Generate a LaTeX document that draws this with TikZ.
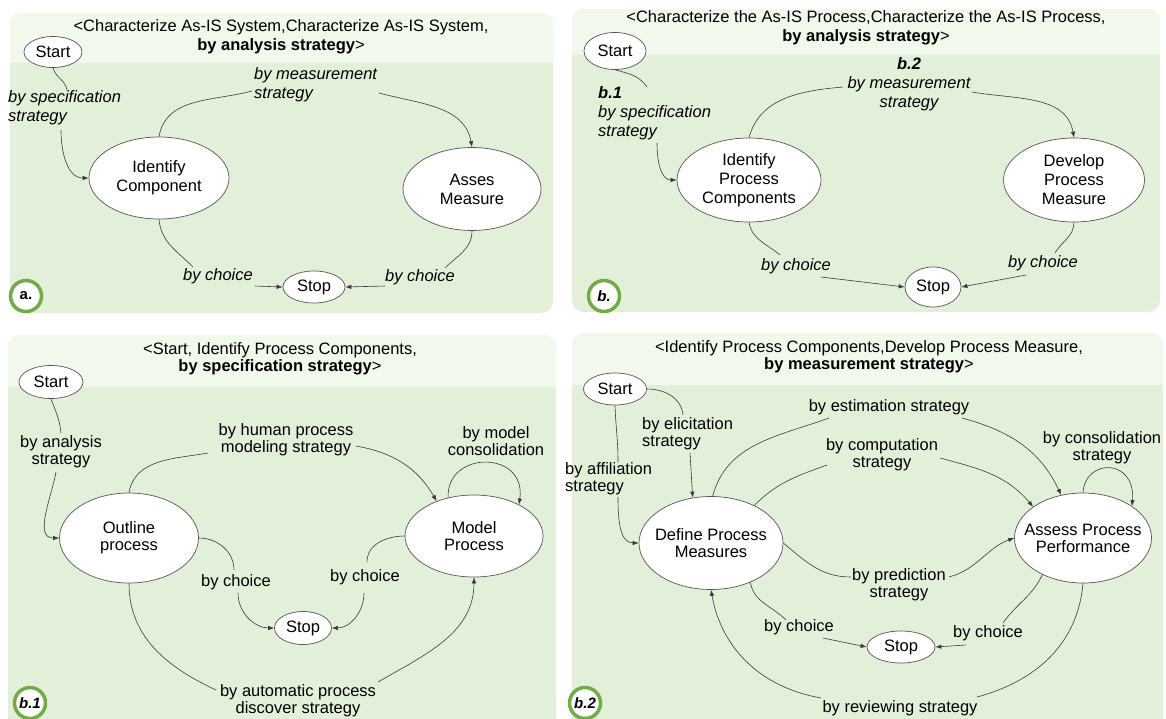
\documentclass[tikz,border=0pt]{standalone}
\usepackage{fontspec}
\setmainfont{Liberation Sans}
\usetikzlibrary{shapes.geometric,arrows.meta}
\definecolor{bodyg}{HTML}{E2F0D9}
\definecolor{headg}{HTML}{F1F8EC}
\definecolor{ringg}{HTML}{70AD47}
\definecolor{lineg}{HTML}{3A3A3A}
\definecolor{ellg}{HTML}{555555}
\newcommand\fsa{\fontsize{16.5}{19}\selectfont}
\newcommand\fsb{\fontsize{16.5}{17}\selectfont}
\newcommand\mkstate[7]{%
  \node[st, minimum width=#4pt, minimum height=#5pt] (#1) at (#2,#3) {};
  \node[#7] (#1t) at (#1) {#6};}
\newcommand\mkpanel[5]{% x1,y1,x2,y2,yheader
  \fill[bodyg, rounded corners=12pt] (#1,#2) rectangle (#3,#4);
  \begin{scope}
    \clip[rounded corners=12pt] (#1,#2) rectangle (#3,#4);
    \fill[headg] (#1,#2) rectangle (#3,#5);
  \end{scope}}
\tikzset{
 st/.style={ellipse, draw=ellg, fill=white, line width=0.7pt, inner sep=0pt},
 sta/.style={inner sep=0pt, align=center, font=\fsa},
 stb/.style={inner sep=0pt, align=center, font=\fsb},
 laba/.style={inner sep=0pt, align=center, font=\fsa\itshape},
 labb/.style={inner sep=0pt, align=center, font=\fsb},
 ln/.style={draw=lineg, line width=0.6pt},
 arr/.style={ln, -{Latex[length=6pt,width=4.5pt]}},
 tag/.style={circle, draw=ringg, line width=3.5pt, fill=white, minimum size=31pt, inner sep=0pt, font=\fontsize{15}{17}\selectfont\bfseries\itshape},
 ttla/.style={align=center, inner sep=0pt, font=\fsa},
 ttlb/.style={align=center, inner sep=0pt, font=\fsb},
}
\begin{document}
\begin{tikzpicture}[x=1pt,y=1pt]
\useasboundingbox (0,0) rectangle (1166,-718);
\fill[white] (0,0) rectangle (1166,-718);
% panels
\mkpanel{10}{-13}{553}{-313}{-63}
\mkpanel{572}{-9}{1160}{-312}{-55}
\mkpanel{8}{-335}{556}{-732}{-387}
\mkpanel{572}{-333}{1163}{-732}{-385}

% ================= panel a =================
\node[ttla] (ta) at (281,-37) {<Characterize As-IS System,Characterize As-IS System,\\\textbf{by analysis strategy}>};
\mkstate{Sa}{53}{-52}{58}{31}{Start}{sta}
\mkstate{IC}{159}{-178}{140}{82}{Identify\\Component}{sta}
\mkstate{AM}{472}{-189}{138}{83}{Asses\\Measure}{sta}
\mkstate{Xa}{314}{-287}{62}{32}{Stop}{sta}

\draw[ln] (Sa.south) to[out=-75,in=100] (67,-90);
\draw[arr] (61,-130) to[out=-90,in=180] (IC.west);
\node[laba, anchor=west, align=left] (la1) at (8,-107.5) {by specification\\strategy};

\draw[ln] (IC.north) to[out=80,in=195] (252,-91);
\draw[arr] (379,-93) to[out=-15,in=100] (AM.north);
\node[laba, anchor=west, align=left] (la2) at (254,-85) {by measurement\\strategy};

\draw[ln] (IC.south) to[out=-85,in=135] (193,-267);
\draw[arr] (255,-286) -- (Xa.west);
\node[laba] (la3) at (218,-276) {by choice};
\draw[ln] (AM.south) to[out=-90,in=45] (445,-268);
\draw[arr] (385,-286) -- (Xa.east);
\node[laba] (la4) at (420,-277) {by choice};
\node[tag, font=\fontsize{15}{17}\selectfont\bfseries] (ga) at (26,-296) {a.};

% ================= panel b =================
\node[ttla] (tb) at (866,-28) {<Characterize the As-IS Process,Characterize the As-IS Process,\\\textbf{by analysis strategy}>};
\mkstate{Sb}{615}{-51}{62}{37}{Start}{sta}
\mkstate{IPC}{749}{-180}{144}{84}{Identify\\Process\\Components}{sta}
\mkstate{DPM}{1074}{-180}{141}{84}{Develop\\Process\\Measure}{sta}
\mkstate{Xb}{933}{-287}{56}{40}{Stop}{sta}

\draw[ln] (Sb.south) to[out=-15,in=125] (647,-87);
\draw[arr] (657,-143) to[out=-90,in=180] (IPC.west);
\node[laba, anchor=west, align=left] (lb1) at (598,-113) {\textbf{b.1}\\by specification\\strategy};

\draw[ln] (IPC.north) to[out=75,in=185] (843,-87);
\draw[arr] (972,-92) to[out=-10,in=100] (DPM.north);
\node[laba] (lb2) at (909,-84) {\textbf{b.2}\\by measurement\\strategy};

\draw[ln] (IPC.south) to[out=-80,in=140] (780,-255);
\draw[arr] (821,-277) -- (Xb.west);
\node[laba] (lb3) at (796,-266) {by choice};
\draw[ln] (DPM.south) to[out=-90,in=60] (1055,-253);
\draw[arr] (1026,-275) -- (Xb.east);
\node[laba] (lb4) at (1043,-263) {by choice};
\node[tag] (gb) at (604,-296) {b.};

% ================= panel b.1 =================
\node[ttlb] (tc) at (280,-359) {<Start, Identify Process Components,\\\textbf{by specification strategy}>};
\mkstate{Sc}{51}{-382}{64}{33}{Start}{stb}
\mkstate{OP}{129}{-538}{139}{90}{Outline\\process}{stb}
\mkstate{MP}{474}{-536}{138}{82}{Model\\Process}{stb}
\mkstate{Xc}{303}{-628}{57}{33}{Stop}{stb}

\draw[ln] (Sc.south) to[out=-70,in=95] (61,-433);
\draw[arr] (56,-472) to[out=-100,in=180] (OP.west);
\node[labb] (lc1) at (61,-451.5) {by analysis\\strategy};

\draw[ln] (OP.north) to[out=80,in=190] (208,-453);
\draw[arr] (356,-446) to[out=-10,in=120] (MP.137);
\node[labb] (lc2) at (286,-440) {by human process\\modeling strategy};

\draw[arr] (MP.124) .. controls (446,-450) and (527,-450) .. (MP.35);
\node[labb] (lc3) at (496,-441) {by model\\consolidation};

\draw[ln] (OP.east) to[out=0,in=90] (234,-570);
\draw[arr] (238,-593) to[out=-90,in=180] (Xc.west);
\node[labb] (lc4) at (236,-582) {by choice};

\draw[ln] (MP.west) to[out=180,in=90] (367,-562);
\draw[arr] (364,-593) to[out=-90,in=0] (Xc.east);
\node[labb] (lc5) at (365,-577) {by choice};

\draw[ln] (OP.south) to[out=-90,in=155] (216,-690);
\draw[arr] (378,-682) to[out=30,in=-90] (MP.south);
\node[labb] (lc6) at (298,-701) {by automatic process\\discover strategy};
\node[tag] (gc) at (30,-703) {b.1};

% ================= panel b.2 =================
\node[ttlb] (td) at (869,-357) {<Identify Process Components,Develop Process Measure,\\\textbf{by measurement strategy}>};
\mkstate{Sd}{615}{-389}{63}{32}{Start}{stb}
\mkstate{DP}{711}{-543}{144}{93}{Define Process\\Measures}{stb}
\mkstate{AP}{1083}{-538}{137}{90}{Assess Process\\Performance}{stb}
\mkstate{Xd}{901}{-647}{68}{32}{Stop}{stb}

\draw[ln] (Sd.south) to[out=-88,in=90] (618,-462);
\draw[arr] (618,-497) to[out=-90,in=180] (DP.west);
\node[labb, anchor=west, align=left] (ld1) at (565,-478.5) {by affiliation\\strategy};

\draw[ln] (Sd.east) to[out=0,in=95] (683,-415);
\draw[arr] (690,-453) -- (DP.112);
\node[labb, anchor=west, align=left] (ld2) at (642,-433.5) {by elicitation\\strategy};

\draw[ln] (DP.88) to[out=75,in=200] (829,-418);
\draw[arr] (962,-418) to[out=-15,in=115] (AP.117);
\node[labb] (ld3) at (889,-407) {by estimation strategy};

\draw[ln] (DP.41) to[out=45,in=200] (827,-465);
\draw[arr] (940,-458) to[out=-15,in=130] (AP.148);
\node[labb] (ld4) at (882,-454.5) {by computation\\strategy};

\draw[ln] (DP.east) to[out=-40,in=180] (851,-577);
\draw[arr] (949,-577) to[out=15,in=200] (AP.west);
\node[labb] (ld5) at (899,-585) {by prediction\\strategy};

\draw[arr] (AP.north) .. controls (1085,-458) and (1136,-458) .. (AP.33);
\node[labb] (ld6) at (1102,-447.5) {by consolidation\\strategy};

\draw[ln] (DP.-45) to[out=-80,in=135] (786,-620);
\draw[arr] (823,-638) -- (Xd.west);
\node[labb] (ld7) at (799,-627) {by choice};

\draw[ln] (AP.-138) to[out=-115,in=55] (1003,-623);
\draw[arr] (966,-645) -- (Xd.east);
\node[labb] (ld8) at (988,-633) {by choice};

\draw[ln] (AP.south) to[out=-95,in=15] (977,-697);
\draw[arr] (821,-698) to[out=170,in=-80] (DP.south);
\node[labb] (ld9) at (900,-708) {by reviewing strategy};
\node[tag] (gd) at (585,-703) {b.2};
\end{tikzpicture}
\end{document}
